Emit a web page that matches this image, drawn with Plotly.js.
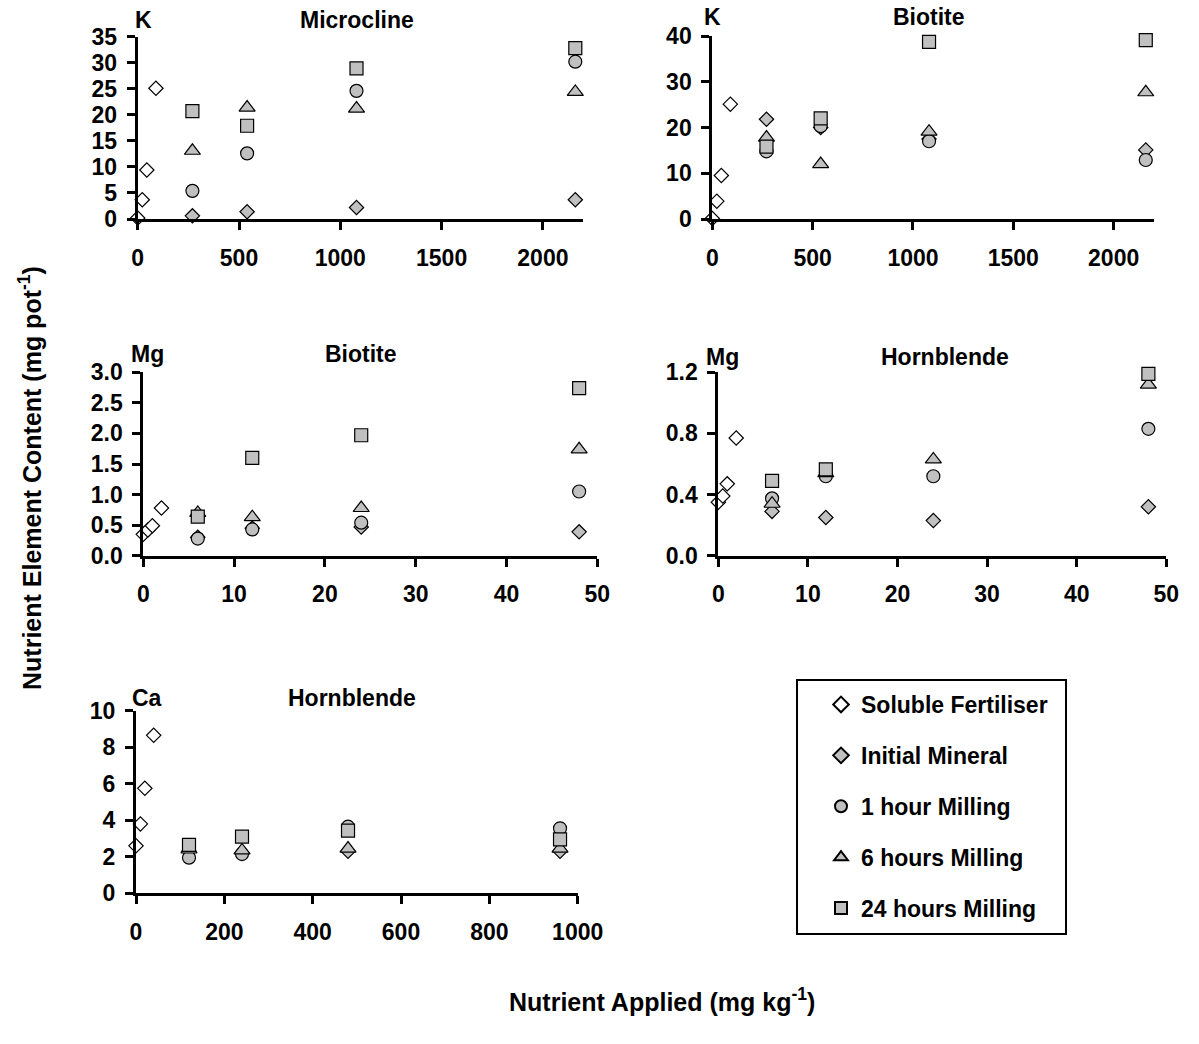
<!DOCTYPE html>
<html>
<head>
<meta charset="utf-8">
<script src="https://cdn.plot.ly/plotly-3.0.1.min.js"></script>
<style>html,body{margin:0;padding:0;background:#fff;}#chart{width:1199px;height:1044px;}</style>
</head>
<body>
<div id="chart"></div>
<script>
// ---------- DATA ----------
const seriesNames = ['Soluble Fertiliser', 'Initial Mineral', '1 hour Milling', '6 hours Milling', '24 hours Milling'];

// nutrient applied (mg kg-1)
const solubleX_K  = [0, 22.5, 45, 90];
const mineralX_K  = [270, 540, 1080, 2160];
const solubleX_Mg = [0, 0.5, 1, 2];
const mineralX_Mg = [6, 12, 24, 48];
const solubleX_Ca = [0, 10, 20, 40];
const mineralX_Ca = [120, 240, 480, 960];

// K - Microcline (mg pot-1)
const kMicro_soluble = [0.2, 3.7, 9.4, 25.1];
const kMicro_initial = [0.6, 1.4, 2.2, 3.7];
const kMicro_1h      = [5.4, 12.6, 24.6, 30.2];
const kMicro_6h      = [13.1, 21.4, 21.2, 24.4];
const kMicro_24h     = [20.7, 17.9, 28.9, 32.8];

// K - Biotite
const kBio_soluble = [0.1, 3.9, 9.5, 25.1];
const kBio_initial = [21.8, 20.0, 17.5, 15.1];
const kBio_1h      = [14.8, 20.3, 17.0, 12.9];
const kBio_6h      = [17.8, 12.0, 19.1, 27.7];
const kBio_24h     = [15.8, 22.0, 38.7, 39.1];

// Mg - Biotite
const mgBio_soluble = [0.35, 0.42, 0.49, 0.78];
const mgBio_initial = [0.30, 0.45, 0.47, 0.39];
const mgBio_1h      = [0.28, 0.43, 0.54, 1.05];
const mgBio_6h      = [0.70, 0.63, 0.78, 1.74];
const mgBio_24h     = [0.64, 1.60, 1.97, 2.74];

// Mg - Hornblende
const mgHorn_soluble = [0.35, 0.39, 0.47, 0.77];
const mgHorn_initial = [0.29, 0.25, 0.23, 0.32];
const mgHorn_1h      = [0.375, 0.52, 0.52, 0.83];
const mgHorn_6h      = [0.34, 0.54, 0.63, 1.12];
const mgHorn_24h     = [0.49, 0.565, null, 1.19];

// Ca - Hornblende
const caHorn_soluble = [2.6, 3.8, 5.75, 8.65];
const caHorn_initial = [2.3, 2.2, 2.3, 2.3];
const caHorn_1h      = [1.95, 2.15, 3.65, 3.56];
const caHorn_6h      = [2.4, 2.35, 2.45, 2.45];
const caHorn_24h     = [2.65, 3.1, 3.43, 2.95];

// ---------- STYLE / LAYOUT ----------
const W = 1199, H = 1044;
const px = v => v / W;
const py = v => 1 - v / H;
const FONT = 'Liberation Sans, Arial, sans-serif';
const GRAY = '#c0c0c0';

const markerStyles = [
  {symbol: 'diamond', size: 11, color: '#ffffff'},
  {symbol: 'diamond', size: 11, color: GRAY},
  {symbol: 'circle', size: 13, color: GRAY},
  {symbol: 'triangle-up', size: 14, color: GRAY},
  {symbol: 'square', size: 13, color: GRAY}
];

const panels = [
  {xs: solubleX_K,  xm: mineralX_K,  ys: [kMicro_soluble, kMicro_initial, kMicro_1h, kMicro_6h, kMicro_24h]},
  {xs: solubleX_K,  xm: mineralX_K,  ys: [kBio_soluble, kBio_initial, kBio_1h, kBio_6h, kBio_24h]},
  {xs: solubleX_Mg, xm: mineralX_Mg, ys: [mgBio_soluble, mgBio_initial, mgBio_1h, mgBio_6h, mgBio_24h]},
  {xs: solubleX_Mg, xm: mineralX_Mg, ys: [mgHorn_soluble, mgHorn_initial, mgHorn_1h, mgHorn_6h, mgHorn_24h]},
  {xs: solubleX_Ca, xm: mineralX_Ca, ys: [caHorn_soluble, caHorn_initial, caHorn_1h, caHorn_6h, caHorn_24h]}
];

// pixel boxes [left, right, top, bottom]
const boxes = [
  [137.7, 583.4, 36.7, 219],
  [712.3, 1153.8, 36, 219],
  [143.3, 597.3, 372.3, 555.7],
  [718.3, 1166.3, 372.3, 555.7],
  [136, 577.7, 710.7, 893.3]
];
const xRanges = [[0, 2200], [0, 2200], [0, 50], [0, 50], [0, 1000]];
const yRanges = [[0, 35], [0, 40], [0, 3], [0, 1.2], [0, 10]];
const xDticks = [500, 500, 10, 10, 200];
const yDticks = [5, 10, 0.5, 0.4, 2];
const yFormats = ['d', 'd', '.1f', '.1f', 'd'];

const traces = [];
panels.forEach((p, i) => {
  const sfx = i === 0 ? '' : String(i + 1);
  p.ys.forEach((yv, s) => {
    const m = markerStyles[s];
    traces.push({
      type: 'scatter', mode: 'markers',
      x: s === 0 ? p.xs : p.xm,
      y: yv,
      name: seriesNames[s],
      legendgroup: 'g' + s,
      showlegend: i === 0,
      xaxis: 'x' + sfx, yaxis: 'y' + sfx,
      cliponaxis: false,
      marker: {symbol: m.symbol, size: m.size, color: m.color, line: {color: '#000', width: 1.2}}
    });
  });
});

const tickFont = {family: FONT, size: 23, color: '#000', weight: 'bold'};
const layout = {
  width: W, height: H,
  margin: {l: 0, r: 0, t: 0, b: 0},
  paper_bgcolor: '#fff', plot_bgcolor: 'rgba(0,0,0,0)',
  showlegend: true,
  legend: {
    x: px(821), y: py(683), xanchor: 'left', yanchor: 'top',
    bgcolor: 'rgba(0,0,0,0)', borderwidth: 0,
    font: {family: FONT, size: 23, color: '#000', weight: 'bold'},
    tracegroupgap: 18, itemsizing: 'constant'
  },
  shapes: [{
    type: 'rect', xref: 'paper', yref: 'paper',
    x0: px(797), x1: px(1066), y0: py(934), y1: py(680),
    line: {color: '#000', width: 2}, fillcolor: 'rgba(0,0,0,0)'
  }],
  annotations: []
};

boxes.forEach((b, i) => {
  const sfx = i === 0 ? '' : String(i + 1);
  layout['xaxis' + sfx] = {
    domain: [px(b[0]), px(b[1])], anchor: 'y' + sfx,
    range: xRanges[i], dtick: xDticks[i], tick0: 0,
    showline: true, linecolor: '#000', linewidth: 3,
    ticks: 'outside', ticklen: 8, tickwidth: 3, tickcolor: '#000',
    showgrid: false, zeroline: false, tickfont: tickFont,
    ticklabelstandoff: 8, fixedrange: true
  };
  layout['yaxis' + sfx] = {
    domain: [py(b[3]), py(b[2])], anchor: 'x' + sfx,
    range: yRanges[i], dtick: yDticks[i], tick0: 0, tickformat: yFormats[i],
    showline: true, linecolor: '#000', linewidth: 3,
    ticks: 'outside', ticklen: 8, tickwidth: 3, tickcolor: '#000',
    showgrid: false, zeroline: false, tickfont: tickFont,
    ticklabelstandoff: 5, fixedrange: true
  };
});

function ann(text, x, y, size, extra) {
  return Object.assign({
    text: text, xref: 'paper', yref: 'paper', x: px(x), y: py(y),
    xanchor: 'center', yanchor: 'middle', showarrow: false,
    font: {family: FONT, size: size, color: '#000', weight: 'bold'}
  }, extra || {});
}

layout.annotations.push(
  ann('K', 143, 20, 23),
  ann('Microcline', 357, 20, 23),
  ann('K', 712, 17, 23),
  ann('Biotite', 929, 17, 23),
  ann('Mg', 147, 354, 23),
  ann('Biotite', 361, 354, 23),
  ann('Mg', 722, 357, 23),
  ann('Hornblende', 945, 357, 23),
  ann('Ca', 147, 698, 23),
  ann('Hornblende', 352, 698, 23),
  ann('Nutrient Applied (mg kg<sup>-1</sup>)', 662, 1000, 25),
  ann('Nutrient Element Content (mg pot<sup>-1</sup>)', 30, 478, 25, {textangle: -90})
);

Plotly.newPlot('chart', traces, layout, {staticPlot: true, displayModeBar: false});
</script>
</body>
</html>
